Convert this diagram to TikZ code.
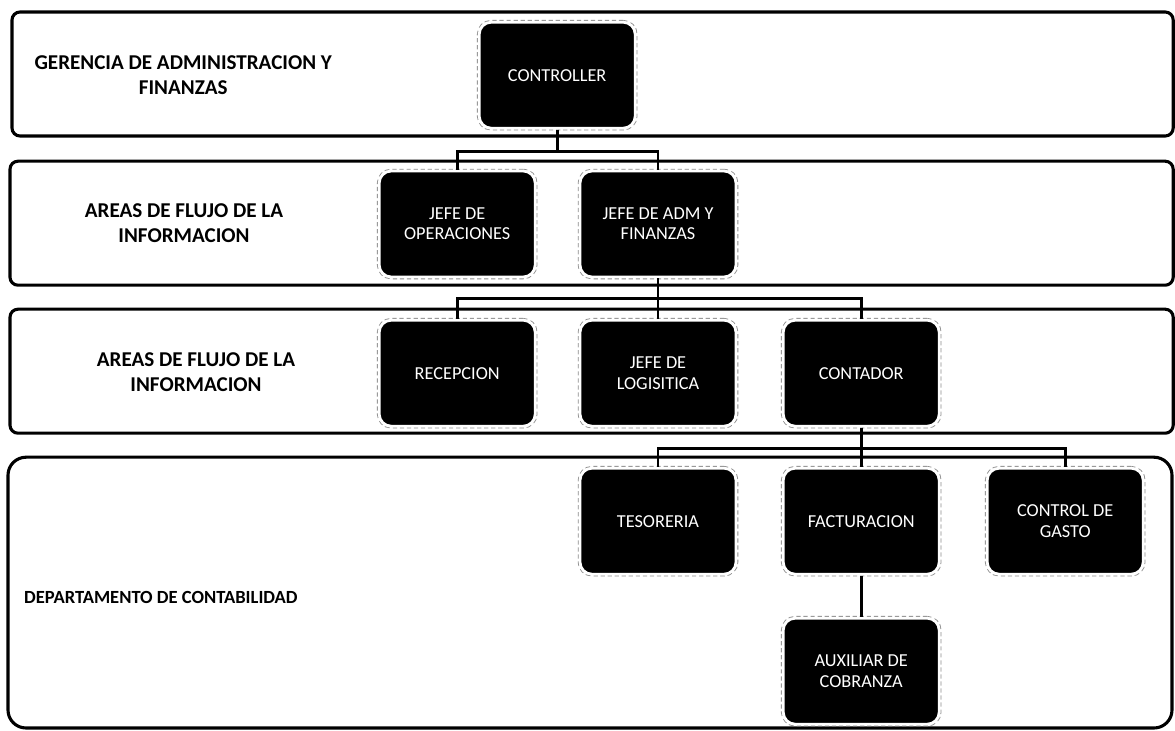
\documentclass[tikz,border=0pt]{standalone}
\usepackage{fontspec}
\setmainfont{Carlito}
\usepackage{tikz}
\usetikzlibrary{positioning,calc}

\begin{document}
\begin{tikzpicture}[
    font=\fontsize{13}{16}\selectfont,
    band/.style={draw=black,line width=2.2pt,rounded corners=0.2cm},
    wideband/.style={band,rounded corners=0.45cm},
    bandlabel/.style={align=center,font=\fontsize{15}{17.5}\selectfont\bfseries,text=black},
    unit/.style={
      fill=black,
      text=white,
      draw=white,
      line width=2pt,
      rounded corners=0.3cm,
      minimum width=3.9cm,
      minimum height=2.65cm,
      align=center,
      font=\fontsize{13}{14.5}\selectfont,
      preaction={draw=black!45,densely dashed,line width=3.2pt}
    },
    link/.style={draw=black,line width=2pt}
  ]
    \useasboundingbox[fill=white] (0,0) rectangle (29.375,-18.275);

    \draw[band] (0.30,-0.30) rectangle (29.33,-3.40);
    \draw[band] (0.25,-4.03) rectangle (29.33,-7.13);
    \draw[band] (0.25,-7.73) rectangle (29.33,-10.83);
    \draw[wideband] (0.20,-11.43) rectangle (29.30,-18.20);

    \node[bandlabel] (gerencia) at (4.58,-1.88) {GERENCIA DE ADMINISTRACION Y\\FINANZAS};
    \node[bandlabel] (areasA) at (4.60,-5.58) {AREAS DE FLUJO DE LA\\INFORMACION};
    \node[bandlabel] (areasB) at (4.90,-9.30) {AREAS DE FLUJO DE LA\\INFORMACION};
    \node[bandlabel,font=\fontsize{13.2}{16}\selectfont\bfseries,anchor=west] (depto) at (0.48,-14.93) {DEPARTAMENTO DE CONTABILIDAD};

    \node[unit] (controller) at (13.93,-1.88) {CONTROLLER};

    \node[unit] (jefeop) at (11.43,-5.60) {JEFE DE\\OPERACIONES};
    \node[unit] (jefeadm) at (16.45,-5.60) {JEFE DE ADM Y\\FINANZAS};

    \node[unit] (recepcion) at (11.43,-9.33) {RECEPCION};
    \node[unit] (logistica) at (16.45,-9.33) {JEFE DE\\LOGISITICA};
    \node[unit] (contador) at (21.53,-9.33) {CONTADOR};

    \node[unit] (tesoreria) at (16.45,-13.03) {TESORERIA};
    \node[unit] (facturacion) at (21.53,-13.03) {FACTURACION};
    \node[unit] (gasto) at (26.63,-13.03) {CONTROL DE\\GASTO};

    \node[unit] (auxiliar) at (21.53,-16.78) {AUXILIAR DE\\COBRANZA};

    \foreach \child in {jefeop,jefeadm} {
      \draw[link] (controller.south) -- ++(0,-0.55) -| (\child.north);
    }
    \foreach \child in {recepcion,logistica,contador} {
      \draw[link] (jefeadm.south) -- ++(0,-0.50) -| (\child.north);
    }
    \foreach \child in {tesoreria,facturacion,gasto} {
      \draw[link] (contador.south) -- ++(0,-0.52) -| (\child.north);
    }
    \draw[link] (facturacion.south) -- (auxiliar.north);
  \end{tikzpicture}
\end{document}
